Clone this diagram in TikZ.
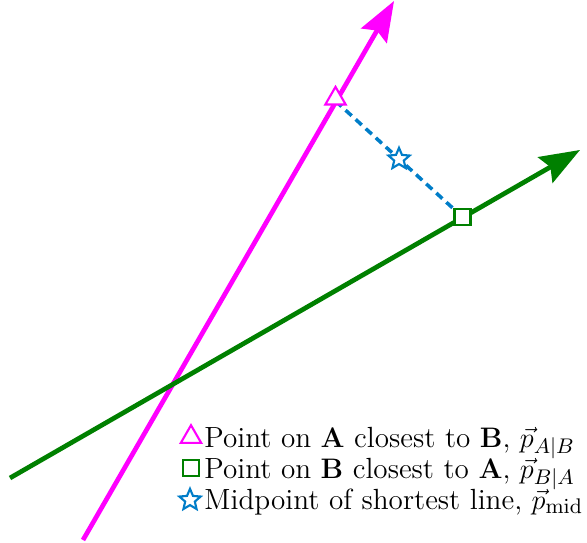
\documentclass[tikz,border=0pt]{standalone}
\usepackage{amsmath}
\usepackage{amssymb}
\usepackage{tikz}
\usetikzlibrary{positioning, arrows.meta, shapes.geometric, calc}

\definecolor{lineA}{RGB}{255,0,255}
\definecolor{lineB}{RGB}{0,128,0}
\definecolor{midblue}{RGB}{0,125,200}

\begin{document}
\begin{tikzpicture}[x=0.425pt, y=-0.425pt,
    vecline/.style={line width=2pt, -{Stealth[length=17pt, width=12.5pt, inset=2.5pt]}},
    trimark/.style={draw=lineA, fill=white, line width=0.9pt, regular polygon, regular polygon sides=3, inner sep=0pt, minimum size=10pt},
    sqmark/.style={draw=lineB, fill=white, line width=0.9pt, rectangle, inner sep=0pt, minimum size=6.8pt},
    starmark/.style={draw=midblue, fill=white, line width=0.9pt, star, star points=5, star point ratio=2.2, inner sep=0pt, minimum size=9.5pt},
    legtext/.style={anchor=base west, inner sep=0pt, font=\fontsize{12.4}{15}\selectfont}]
    \useasboundingbox (0,0) rectangle (587,543);

    % lines A and B
    \coordinate (a0) at (83,540);
    \coordinate (a1) at (394,1);
    \coordinate (b0) at (10,478);
    \coordinate (b1) at (580,150);
    \draw[vecline, lineA] (a0) -- (a1);
    \draw[vecline, lineB] (b0) -- (b1);

    % closest points
    \coordinate (pab) at (335.5,101);
    \coordinate (pba) at (462.5,217);
    \draw[midblue, line width=1.5pt, dash pattern=on 3.5pt off 2.3pt] (pab) -- (pba);
    \node[trimark, yshift=1pt] (tri) at (pab) {};
    \node[sqmark] (sq) at (pba) {};
    \node[starmark] (mid) at ($(pab)!0.5!(pba)$) {};

    % legend
    \node[trimark] (legtri) at (191,437) {};
    \node[sqmark] (legsq) at (191,468) {};
    \node[starmark] (legstar) at (190,500) {};
    \node[legtext] (txtA) at (204,447) {Point on $\mathbf{A}$ closest to $\mathbf{B}$, $\vec{p}_{A|B}$};
    \node[legtext] (txtB) at (204,478) {Point on $\mathbf{B}$ closest to $\mathbf{A}$, $\vec{p}_{B|A}$};
    \node[legtext] (txtM) at (204,509) {Midpoint of shortest line, $\vec{p}_{\mathrm{mid}}$};
\end{tikzpicture}
\end{document}
